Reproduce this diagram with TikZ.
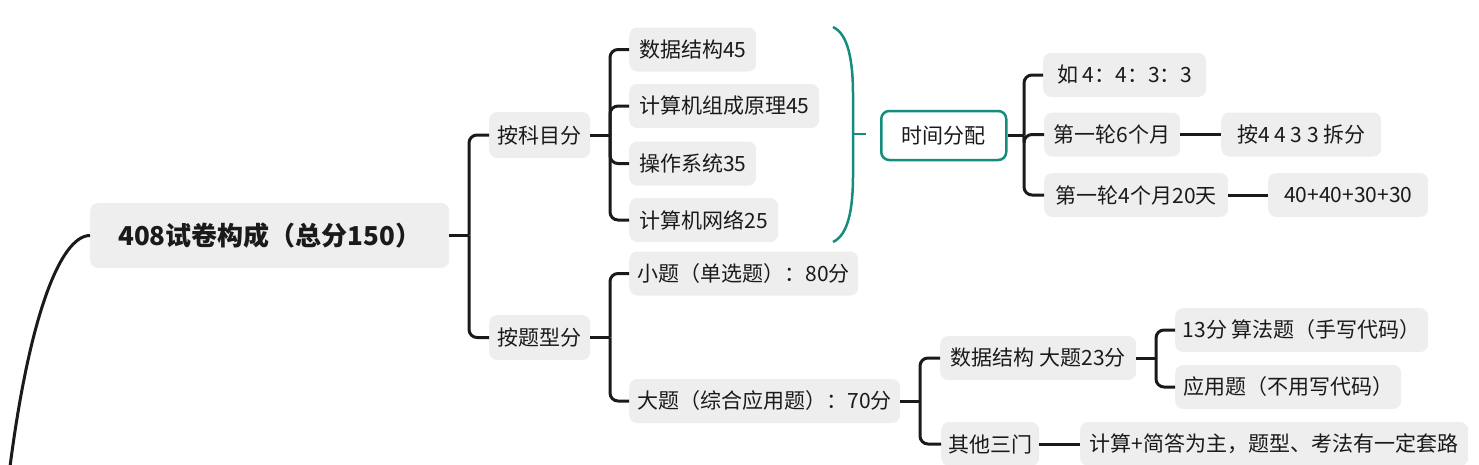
\documentclass[tikz,border=0pt]{standalone}
\usepackage{fontspec}
\setmainfont{Noto Sans CJK SC}
\definecolor{nodegray}{HTML}{EEEEEE}
\definecolor{ink}{HTML}{1A1A1A}
\definecolor{teal2}{RGB}{22,140,125}
\tikzset{
  x=1pt,y=-1pt,
  box/.style={fill=nodegray, rounded corners=8pt, anchor=west, inner sep=0pt,
    minimum height=44pt, text=ink, font=\fontsize{21}{25}\selectfont},
  rootbox/.style={box, minimum height=65pt, inner xsep=28pt, text width=303pt, align=left,
    font=\fontsize{26}{30}\selectfont\bfseries},
  timebox/.style={box, fill=white, draw=teal2, line width=2.5pt, minimum height=49pt},
  conn/.style={draw=ink, line width=3pt, rounded corners=8pt},
  brace/.style={draw=teal2, line width=2.5pt},
}
\begin{document}
\begin{tikzpicture}
\useasboundingbox (0,0) rectangle (1479,464);
\clip (0,0) rectangle (1479,464);
% nodes
\node[rootbox] (root) at (90,235.5) {408试卷构成（总分150）};
\node[box, minimum width=101pt, minimum height=46pt] (km) at (489,135) {按科目分};
\node[box, minimum width=101pt, minimum height=45pt] (tx) at (489,337.5) {按题型分};
\node[box, minimum width=127pt] (ds45) at (629,49.5) {数据结构45};
\node[box, minimum width=190pt] (zc45) at (629,106) {计算机组成原理45};
\node[box, minimum width=127pt] (os35) at (629,163.5) {操作系统35};
\node[box, minimum width=149pt] (net25) at (629,220) {计算机网络25};
\node[timebox, minimum width=125pt] (time) at (880,135.5) {时间分配};
\node[box, minimum width=163pt] (ru) at (1043,75) {如 4：4：3：3};
\node[box, minimum width=136pt] (r6) at (1044,134.5) {第一轮6个月};
\node[box, minimum width=160pt] (a4433) at (1221,134.5) {按4 4 3 3 拆分};
\node[box, minimum width=184pt] (r4) at (1044,195) {第一轮4个月20天};
\node[box, minimum width=160pt] (n40) at (1268,195) {40+40+30+30};
\node[box, minimum width=229pt] (xiao) at (629,273.5) {小题（单选题）：80分};
\node[box, minimum width=271pt] (da) at (629,401) {大题（综合应用题）：70分};
\node[box, minimum width=196pt] (ds23) at (940,358) {数据结构 大题23分};
\node[box, minimum width=253pt] (al13) at (1175,330) {13分 算法题（手写代码）};
\node[box, minimum width=226pt] (yy) at (1175,387) {应用题（不用写代码）};
\node[box, minimum width=98pt] (qt) at (941,444) {其他三门};
\node[box, minimum width=388pt] (js) at (1080,444) {计算+简答为主，题型、考法有一定套路};
% junctions
\coordinate (j0) at (469,235.5);
\coordinate (j1) at (610,135);
\coordinate (j2) at (610,337.5);
\coordinate (j3) at (1024,135.5);
\coordinate (j4) at (920,401);
\coordinate (j5) at (1156,358);
% connectors
\draw[conn] (root.east) -- (j0);
\draw[conn] (j0) |- (km.west);
\draw[conn] (j0) |- (tx.west);
\draw[conn] (km.east) -- (j1);
\draw[conn] (j1) |- (ds45.west);
\draw[conn] (j1) |- (zc45.west);
\draw[conn] (j1) |- (os35.west);
\draw[conn] (j1) |- (net25.west);
\draw[conn] (tx.east) -- (j2);
\draw[conn] (j2) |- (xiao.west);
\draw[conn] (j2) |- (da.west);
\draw[conn] (time.east) -- (j3);
\draw[conn] (j3) |- (ru.west);
\draw[conn] (j3) |- (r6.west);
\draw[conn] (j3) |- (r4.west);
\draw[conn] (r6.east) -- (a4433.west);
\draw[conn] (r4.east) -- (n40.west);
\draw[conn] (da.east) -- (j4);
\draw[conn] (j4) |- (ds23.west);
\draw[conn] (j4) |- (qt.west);
\draw[conn] (ds23.east) -- (j5);
\draw[conn] (j5) |- (al13.west);
\draw[conn] (j5) |- (yy.west);
\draw[conn] (qt.east) -- (js.west);
% curve from off-picture parent
\coordinate (offparent) at (6,500);
\draw[draw=ink, line width=3pt] (root.west) .. controls (60,235.5) and (26,320) .. (offparent);
% brace
\coordinate (bt) at (833,27);
\coordinate (bb) at (833,242);
\coordinate (btip) at (866,134);
\draw[brace] (bt) .. controls (848,34) and (853,60) .. (853,95) -- (853,175)
  .. controls (853,210) and (848,235) .. (bb);
\draw[brace] (853,134) -- (btip);
\end{tikzpicture}
\end{document}
